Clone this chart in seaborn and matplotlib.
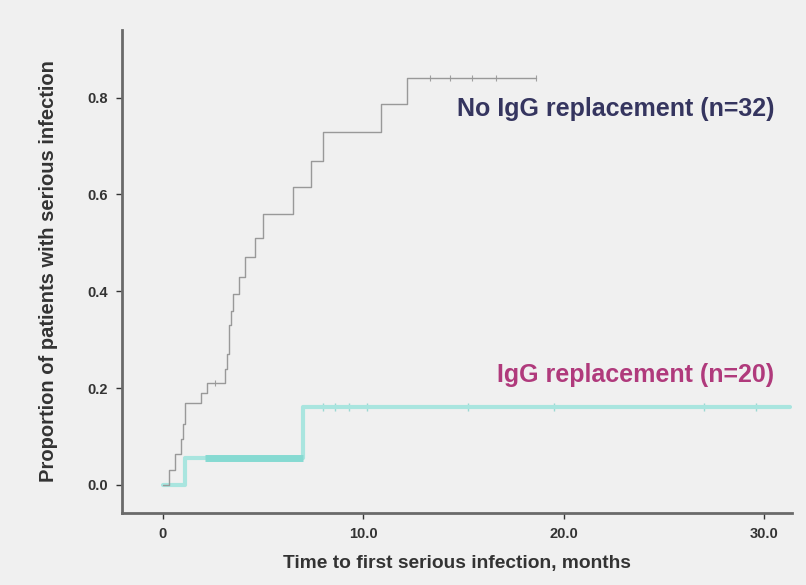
import pandas as pd
import seaborn as sns
import matplotlib.pyplot as plt

# cumulative proportion with serious infection
no_igg_time = [0, 0.3, 0.6, 0.9, 1.0, 1.1, 1.9, 2.2, 3.1, 3.2, 3.3, 3.4, 3.5,
               3.8, 4.1, 4.6, 5.0, 6.5, 7.4, 8.0, 10.9, 12.2, 18.6]
no_igg_prop = [0, 0.031, 0.063, 0.094, 0.125, 0.169, 0.19, 0.21, 0.24, 0.27,
               0.33, 0.36, 0.395, 0.43, 0.47, 0.51, 0.56, 0.615, 0.67, 0.73,
               0.787, 0.84, 0.84]
no_igg_cens_time = [2.6, 13.3, 14.3, 15.4, 16.6, 18.6]
no_igg_cens_prop = [0.21, 0.84, 0.84, 0.84, 0.84, 0.84]

igg_time = [0, 1.1, 7.0, 31.3]
igg_prop = [0, 0.055, 0.16, 0.16]
igg_cens_time = [8.0, 8.6, 9.3, 10.2, 15.2, 19.5, 27.0, 29.6]
igg_cens_prop = [0.16] * 8

x_ticks = [0, 10, 20, 30]
x_ticklabels = ["0", "10.0", "20.0", "30.0"]
y_ticks = [0.0, 0.2, 0.4, 0.6, 0.8]

no_igg = pd.DataFrame({"time": no_igg_time, "prop": no_igg_prop})
igg = pd.DataFrame({"time": igg_time, "prop": igg_prop})

sns.set_style("ticks")
plt.rcParams["font.family"] = ["Liberation Sans", "DejaVu Sans"]
plt.rcParams["font.weight"] = "bold"

bg = "#f0f0f0"
fig = plt.figure(figsize=(8.06, 5.85), dpi=100, facecolor=bg)
ax = fig.add_axes([0.151, 0.123, 0.832, 0.826], facecolor=bg)

sns.lineplot(data=igg, x="time", y="prop", ax=ax, estimator=None,
             drawstyle="steps-post", color="#a9e5df", lw=3)
# the early flat part of the IgG curve is drawn heavier in the original
ax.hlines(igg_prop[1], igg_time[1] + 1.0, igg_time[2], color="#86dad2", lw=5)
sns.lineplot(data=no_igg, x="time", y="prop", ax=ax, estimator=None,
             drawstyle="steps-post", color="#999999", lw=1)
ax.scatter(igg_cens_time, igg_cens_prop, marker="|", s=30, color="#9cd8d2", lw=1)
ax.scatter(no_igg_cens_time, no_igg_cens_prop, marker="|", s=20, color="#a0a0a0", lw=0.8)

ax.text(30.5, 0.777, "No IgG replacement (n=32)", ha="right", va="center",
        fontsize=18, fontweight="bold", color="#35355f")
ax.text(30.5, 0.227, "IgG replacement (n=20)", ha="right", va="center",
        fontsize=18, fontweight="bold", color="#b03a7c")

ax.set_xlim(-2.06, 31.4)
ax.set_ylim(-0.058, 0.94)
ax.set_xticks(x_ticks)
ax.set_xticklabels(x_ticklabels)
ax.set_yticks(y_ticks)
ax.set_yticklabels([f"{v:.1f}" for v in y_ticks])
ax.tick_params(labelsize=10.5, colors="#333333", length=4, width=1, pad=6)

ax.set_xlabel("Time to first serious infection, months", fontsize=13.8,
              fontweight="bold", color="#333333", labelpad=10)
ax.set_ylabel("Proportion of patients with serious infection", fontsize=14.5,
              fontweight="bold", color="#333333", labelpad=21)

sns.despine(ax=ax)
for side in ["left", "bottom"]:
    ax.spines[side].set_color("#6a6a6a")
    ax.spines[side].set_linewidth(2)

fig.savefig("out.png", dpi=100, facecolor=bg)
